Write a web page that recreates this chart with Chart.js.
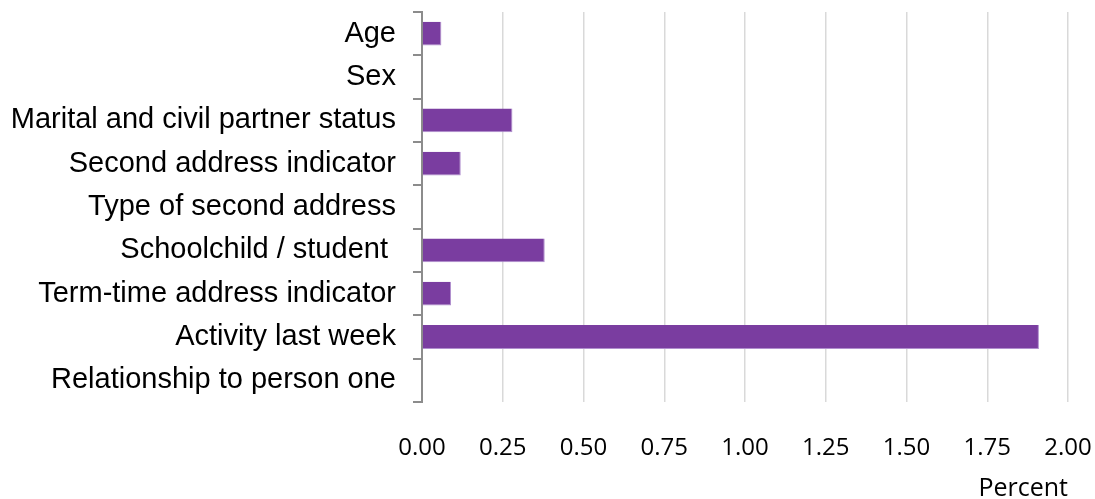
<!DOCTYPE html>
<html lang="en">

<head>
    <meta charset="UTF-8">
    <title>Item non-response by question</title>
    <script src="https://cdn.jsdelivr.net/npm/chart.js"></script>
    <style>
        html, body { margin: 0; padding: 0; background: #fff; }
        #wrap { width: 1095px; height: 499px; }
    </style>
</head>

<body>
    <div id="wrap">
        <canvas id="chart" width="1095" height="499"></canvas>
    </div>
    <script>
        // Questions and their percentages
        const questions = [
            'Age',
            'Sex',
            'Marital and civil partner status',
            'Second address indicator',
            'Type of second address',
            'Schoolchild / student ',
            'Term-time address indicator',
            'Activity last week',
            'Relationship to person one'
        ];
        const percents = [0.06, 0, 0.28, 0.12, 0, 0.38, 0.09, 1.91, 0];

        const xMin = 0;
        const xMax = 2;
        const xStep = 0.25;
        const xTitle = 'Percent';

        const ctx = document.getElementById('chart').getContext('2d');
        new Chart(ctx, {
            type: 'bar',
            data: {
                labels: questions,
                datasets: [{
                    data: percents,
                    backgroundColor: '#7A3DA0',
                    borderColor: '#B08FCE',
                    borderWidth: { top: 0, left: 0, right: 1, bottom: 1 },
                    barPercentage: 0.55,
                    categoryPercentage: 1
                }]
            },
            options: {
                indexAxis: 'y',
                responsive: false,
                animation: false,
                layout: { padding: { top: 12, right: 27, bottom: 0, left: 0 } },
                plugins: {
                    legend: { display: false },
                    tooltip: { enabled: false }
                },
                scales: {
                    x: {
                        min: xMin,
                        max: xMax,
                        ticks: {
                            stepSize: xStep,
                            padding: 32,
                            color: '#000',
                            font: { family: 'Open Sans', size: 24 },
                            callback: v => Number(v).toFixed(2)
                        },
                        grid: { color: '#D9D9D9', lineWidth: 1.5, drawTicks: false },
                        border: { display: false },
                        title: {
                            display: true,
                            text: xTitle,
                            align: 'end',
                            color: '#000',
                            font: { family: 'Open Sans', size: 25, lineHeight: 0.85 },
                            padding: { top: 0, bottom: 0 }
                        },
                        // fixed axis band; edge label overflow is covered by layout padding
                        afterFit: s => {
                            s.height = 97;
                            s.paddingLeft = 0;
                            s.paddingRight = 0;
                        }
                    },
                    y: {
                        ticks: {
                            padding: 17,
                            color: '#000',
                            font: { family: 'Liberation Sans', size: 29 }
                        },
                        grid: {
                            drawOnChartArea: false,
                            tickLength: 9,
                            color: '#8C8C8C',
                            lineWidth: 2
                        },
                        border: { color: '#8C8C8C', width: 2 },
                        afterFit: s => {
                            s.width = 422;
                            s.paddingTop = 0;
                            s.paddingBottom = 0;
                        }
                    }
                }
            }
        });
    </script>
</body>

</html>
